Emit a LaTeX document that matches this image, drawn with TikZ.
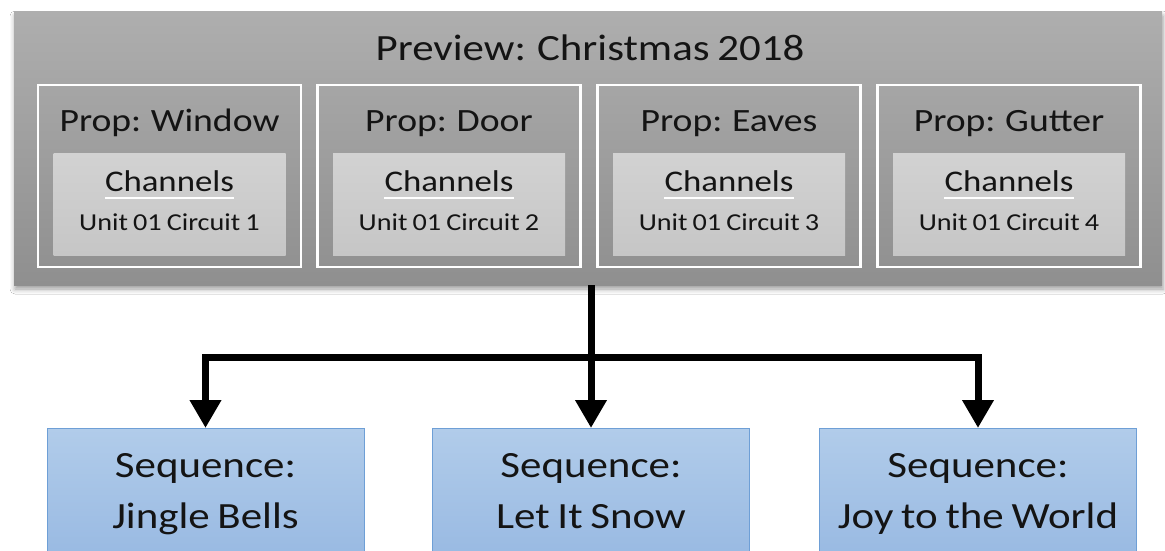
\documentclass[tikz,border=0pt]{standalone}
\usepackage{fontspec}
\setmainfont{Carlito}[FakeStretch=1.16,WordSpace=0.8]
\usetikzlibrary{arrows.meta,shadows.blur}
\definecolor{txt}{HTML}{141414}
\definecolor{pvtop}{HTML}{AEAEAE}
\definecolor{pvbot}{HTML}{8F8F8F}
\definecolor{chtop}{HTML}{D2D2D2}
\definecolor{chbot}{HTML}{C6C6C6}
\definecolor{sqtop}{HTML}{B1CCEA}
\definecolor{sqbot}{HTML}{98B9E2}
\definecolor{sqline}{HTML}{6E9FD6}
\tikzset{
  previewbox/.style={draw=none, top color=pvtop, bottom color=pvbot, minimum width=1148pt, minimum height=273pt,
    blur shadow={shadow xshift=1pt, shadow yshift=-4pt, shadow blur radius=5pt, shadow opacity=40}},
  propbox/.style={draw=white, line width=2.5pt, minimum width=263pt, minimum height=182pt},
  chanbox/.style={draw=none, top color=chtop, bottom color=chbot, minimum width=232pt, minimum height=102pt},
  seqbox/.style={draw=sqline, line width=1pt, top color=sqtop, bottom color=sqbot, minimum width=317pt, minimum height=132pt},
  lbl/.style={text=txt, inner sep=0pt, anchor=base},
  conn/.style={line width=7pt, black},
  tip/.style={-{Triangle[width=30pt,length=28pt]}},
}
\begin{document}
\begin{tikzpicture}[x=1pt,y=-1pt]
\clip (0,0) rectangle (1165,551);
\fill[white] (0,0) rectangle (1165,551);
\node[previewbox] (preview) at (588,148.5) {};
\node[lbl, font=\fontsize{37}{40}\selectfont] (title) at (590,60) {Preview: Christmas 2018};
\foreach \n/\cx/\pname/\k in {p1/169.5/Window/1, p2/449/Door/2, p3/729/Eaves/3, p4/1009/Gutter/4}{
  \node[propbox] (\n) at (\cx,176) {};
  \node[lbl, font=\fontsize{32.5}{36}\selectfont] (\n t) at (\cx,131.5) {Prop: \pname};
  \node[chanbox] (\n c) at (\cx,204) {};
  \node[lbl, font=\fontsize{30}{33}\selectfont] (\n ch) at (\cx,191.5) {Channels};
  \draw[white, line width=1.6pt] ([yshift=-6.5pt]\n ch.base west) -- ([yshift=-6.5pt]\n ch.base east);
  \node[lbl, font=\fontsize{24.3}{27}\selectfont] (\n u) at (\cx,230) {Unit 01 Circuit \k};
}
\foreach \n/\cx/\la/\lb in {s1/205.5/Sequence:/Jingle Bells, s2/591/Sequence:/Let It Snow, s3/978/Sequence:/Joy to the World}{
  \node[seqbox, anchor=north] (\n) at (\cx,428) {};
  \node[lbl, font=\fontsize{37}{40}\selectfont] (\n a) at (\cx,477) {\la};
  \node[lbl, font=\fontsize{37}{40}\selectfont] (\n b) at (\cx,528) {\lb};
}
\coordinate (hub) at (591,357);
\draw[conn, tip] (preview.south -| s2.north) -- (s2.north);
\draw[conn, tip] (hub) -| (s1.north);
\draw[conn, tip] (hub) -| (s3.north);
\end{tikzpicture}
\end{document}
